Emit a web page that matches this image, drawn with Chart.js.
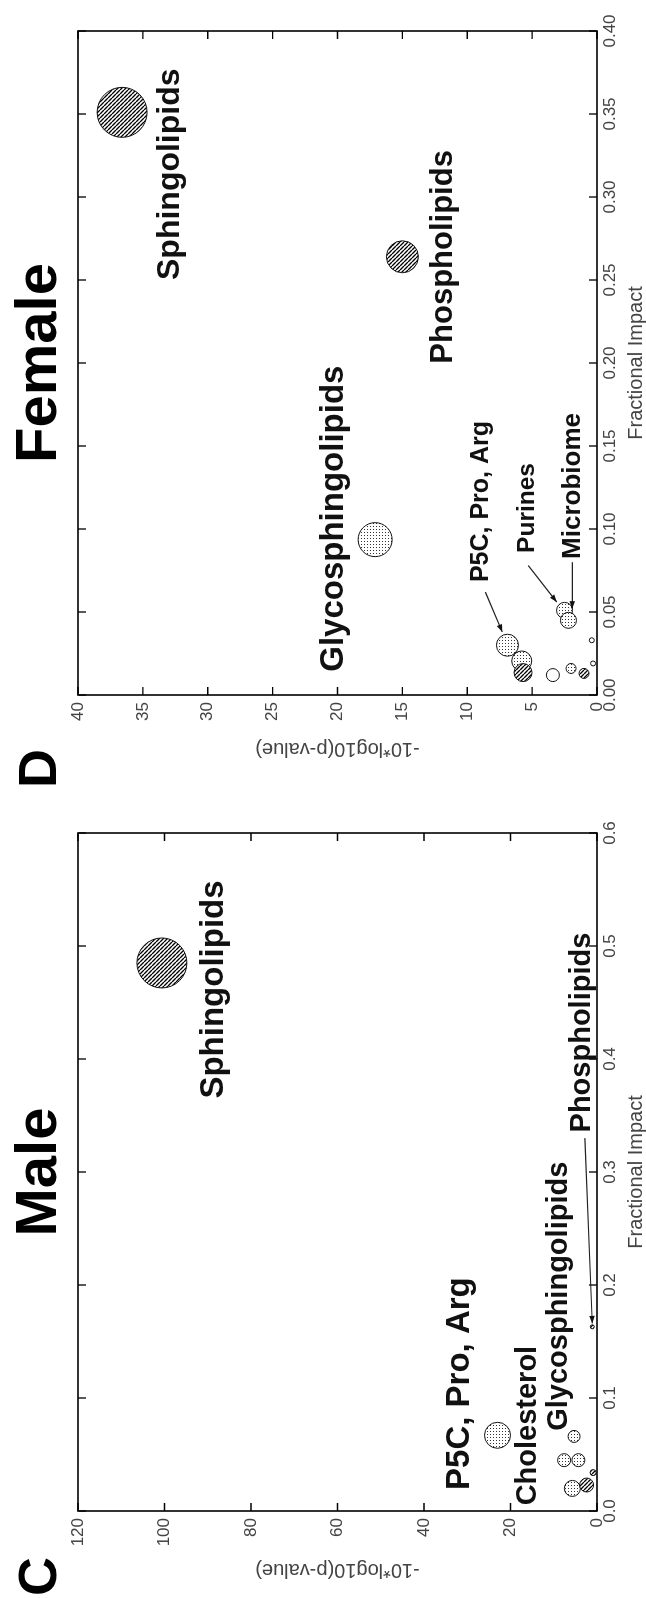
<!DOCTYPE html>
<html>
<head>
<meta charset="utf-8">
<script src="https://cdn.jsdelivr.net/npm/chart.js@4.4.1/dist/chart.umd.min.js"></script>
<style>
  html, body { margin: 0; padding: 0; background: #fff; }
  body { width: 646px; height: 1598px; overflow: hidden; position: relative; }
  /* the figure is laid out landscape, then turned a quarter left */
  #figure { position: absolute; left: 0; top: 0; width: 1598px; height: 646px;
    transform-origin: 0 0; transform: translateY(1598px) rotate(-90deg); }
  .panel { position: absolute; top: 0; height: 646px; }
  #male { left: 0; width: 800px; }
  #female { left: 800px; width: 798px; }
</style>
</head>
<body>
<div id="figure">
  <div class="panel" id="male"><canvas id="ctx-male" width="800" height="646"></canvas></div>
  <div class="panel" id="female"><canvas id="ctx-female" width="798" height="646"></canvas></div>
</div>
<script>
// ---- panel C : Male ----
const maleHatchImpact = [0.485, 0.023, 0.034, 0.163];
const maleHatchLogP = [100.6, 2.4, 0.9, 1.1];
const maleHatchSize = [25, 7, 3, 2];
const maleDotImpact = [0.067, 0.066, 0.045, 0.045, 0.020];
const maleDotLogP = [23.0, 5.3, 7.6, 4.3, 5.7];
const maleDotSize = [13, 6, 6.5, 6.5, 8];

const maleLabels = ['Sphingolipids', 'P5C, Pro, Arg', 'Cholesterol', 'Glycosphingolipids', 'Phospholipids'];
const maleLabelImpact = [0.365, 0.0186, 0.005, 0.071, 0.335];
const maleLabelLogP = [88.5, 31.7, 16.0, 8.8, 3.4];
const maleArrows = [[0.330, 2.8, 0.166, 1.1]];

// ---- panel D : Female ----
const femaleHatchImpact = [0.351, 0.264, 0.0135, 0.013];
const femaleHatchLogP = [36.6, 15.0, 5.7, 1.0];
const femaleHatchSize = [25, 16, 9, 5];
const femaleDotImpact = [0.0936, 0.030, 0.0205, 0.051, 0.045, 0.016];
const femaleDotLogP = [17.1, 6.9, 5.8, 2.5, 2.2, 2.0];
const femaleDotSize = [17, 11, 10, 8, 8, 5];
const femaleOpenImpact = [0.012, 0.019, 0.033];
const femaleOpenLogP = [3.4, 0.3, 0.4];
const femaleOpenSize = [6.5, 2.5, 2.5];

const femaleLabels = ['Sphingolipids', 'Phospholipids', 'Glycosphingolipids', 'P5C, Pro, Arg', 'Purines', 'Microbiome'];
const femaleLabelImpact = [0.250, 0.1996, 0.014, 0.068, 0.0856, 0.082];
const femaleLabelLogP = [32.9, 11.8, 20.3, 8.9, 5.4, 1.9];
const femaleArrows = [[0.062, 8.6, 0.038, 7.3], [0.078, 5.3, 0.056, 3.1], [0.080, 1.9, 0.052, 1.9]];

const FONT = '"Liberation Sans", Arial, Helvetica, sans-serif';
Chart.defaults.font.family = FONT;

function hatchPattern() {
  const c = document.createElement('canvas');
  c.width = 4; c.height = 4;
  const g = c.getContext('2d');
  g.fillStyle = '#fff'; g.fillRect(0, 0, 4, 4);
  g.strokeStyle = '#000'; g.lineWidth = 1.3;
  g.beginPath();
  for (let i = -4; i <= 4; i += 4) { g.moveTo(i, 0); g.lineTo(i + 4, 4); }
  g.stroke();
  return g.createPattern(c, 'repeat');
}

function dotPattern() {
  const c = document.createElement('canvas');
  c.width = 3; c.height = 3;
  const g = c.getContext('2d');
  g.fillStyle = '#fff'; g.fillRect(0, 0, 3, 3);
  g.fillStyle = '#333'; g.fillRect(1, 1, 1, 1);
  return g.createPattern(c, 'repeat');
}

const points = (xs, ys, rs) => xs.map((v, i) => ({ x: v, y: ys[i], r: rs[i] }));

function arrow(ctx, x0, y0, x1, y1) {
  const ang = Math.atan2(y1 - y0, x1 - x0);
  ctx.beginPath();
  ctx.moveTo(x0, y0); ctx.lineTo(x1, y1);
  ctx.stroke();
  ctx.beginPath();
  ctx.moveTo(x1, y1);
  ctx.lineTo(x1 - 8 * Math.cos(ang - 0.35), y1 - 8 * Math.sin(ang - 0.35));
  ctx.lineTo(x1 - 8 * Math.cos(ang + 0.35), y1 - 8 * Math.sin(ang + 0.35));
  ctx.closePath();
  ctx.fill();
}

// gnuplot style box: frame, inward mirrored ticks, labels, panel title
const gnuFrame = {
  id: 'gnuFrame',
  afterDatasetsDraw(chart, args, o) {
    const { ctx, chartArea: a, scales: { x, y } } = chart;
    ctx.save();
    ctx.strokeStyle = '#000';
    ctx.lineWidth = 1.6;
    ctx.strokeRect(a.left, a.top, a.right - a.left, a.bottom - a.top);
    ctx.lineWidth = 1.3;
    ctx.beginPath();
    x.ticks.forEach((t) => {
      const px = x.getPixelForValue(t.value);
      ctx.moveTo(px, a.bottom); ctx.lineTo(px, a.bottom - 8);
      ctx.moveTo(px, a.top); ctx.lineTo(px, a.top + 8);
    });
    y.ticks.forEach((t) => {
      const py = y.getPixelForValue(t.value);
      ctx.moveTo(a.left, py); ctx.lineTo(a.left + 8, py);
      ctx.moveTo(a.right, py); ctx.lineTo(a.right - 8, py);
    });
    ctx.stroke();

    ctx.fillStyle = '#111';
    ctx.strokeStyle = '#222';
    ctx.lineWidth = 1.2;
    o.arrows.forEach((r) => {
      arrow(ctx, x.getPixelForValue(r[0]), y.getPixelForValue(r[1]),
        x.getPixelForValue(r[2]), y.getPixelForValue(r[3]));
    });

    ctx.textAlign = 'left';
    ctx.textBaseline = 'middle';
    o.labels.forEach((text, i) => {
      ctx.font = `bold ${o.labelSizes[i]}px ${FONT}`;
      ctx.fillText(text, x.getPixelForValue(o.labelX[i]), y.getPixelForValue(o.labelY[i]));
    });

    ctx.fillStyle = '#000';
    ctx.textBaseline = 'alphabetic';
    ctx.font = `bold 58px ${FONT}`;
    ctx.textAlign = 'center';
    ctx.fillText(o.title, (a.left + a.right) / 2, 56);
    ctx.font = `bold 54px ${FONT}`;
    ctx.textAlign = 'left';
    ctx.fillText(o.letter, o.letterX, 56);
    ctx.restore();
  },
};

function bubbleChart(id, cfg) {
  const hatch = hatchPattern();
  const dots = dotPattern();
  const sets = cfg.sets.map((s) => ({
    data: s.data,
    backgroundColor: s.fill === 'hatch' ? hatch : (s.fill === 'dots' ? dots : '#fff'),
    borderColor: '#111',
    borderWidth: 1,
    clip: false,
  }));
  return new Chart(document.getElementById(id).getContext('2d'), {
    type: 'bubble',
    data: { datasets: sets },
    plugins: [gnuFrame],
    options: {
      responsive: false,
      animation: false,
      events: [],
      layout: { padding: cfg.padding },
      plugins: {
        legend: { display: false },
        tooltip: { enabled: false },
        gnuFrame: cfg.frame,
      },
      scales: {
        x: {
          type: 'linear',
          min: 0,
          max: cfg.xMax,
          grid: { display: false, drawTicks: false },
          border: { display: false },
          ticks: {
            stepSize: cfg.xStep,
            padding: 3,
            color: '#444',
            font: { size: 17 },
            maxRotation: 0,
            autoSkip: false,
            callback: (v) => Number(v).toFixed(cfg.xDigits),
          },
          title: { display: true, text: 'Fractional Impact', color: '#444', font: { size: 20, lineHeight: 1 }, padding: { top: 0, bottom: 0 } },
          afterFit: (scale) => { scale.height = 49; },
        },
        y: {
          type: 'linear',
          min: 0,
          max: cfg.yMax,
          grid: { display: false, drawTicks: false },
          border: { display: false },
          ticks: { stepSize: cfg.yStep, padding: 7, color: '#444', font: { size: 17 }, autoSkip: false },
          title: { display: true, text: '-10*log10(p-value)', color: '#444', font: { size: 20, lineHeight: 1 }, padding: { top: 18, bottom: 0 } },
          afterFit: (scale) => { scale.width = cfg.yWidth; },
        },
      },
    },
  });
}

bubbleChart('ctx-male', {
  xMax: 0.6, xStep: 0.1, xDigits: 1, yMax: 120, yStep: 20,
  yWidth: 87,
  padding: { left: 0, right: 35, top: 78, bottom: 0 },
  sets: [
    { fill: 'hatch', data: points(maleHatchImpact, maleHatchLogP, maleHatchSize) },
    { fill: 'dots', data: points(maleDotImpact, maleDotLogP, maleDotSize) },
  ],
  frame: {
    title: 'Male', letter: 'C', letterX: 2,
    labels: maleLabels, labelX: maleLabelImpact, labelY: maleLabelLogP,
    labelSizes: [33, 33, 29, 29, 29],
    arrows: maleArrows,
  },
});

bubbleChart('ctx-female', {
  xMax: 0.4, xStep: 0.05, xDigits: 2, yMax: 40, yStep: 5,
  yWidth: 82,
  padding: { left: 21, right: 31, top: 78, bottom: 0 },
  sets: [
    { fill: 'hatch', data: points(femaleHatchImpact, femaleHatchLogP, femaleHatchSize) },
    { fill: 'dots', data: points(femaleDotImpact, femaleDotLogP, femaleDotSize) },
    { fill: 'open', data: points(femaleOpenImpact, femaleOpenLogP, femaleOpenSize) },
  ],
  frame: {
    title: 'Female', letter: 'D', letterX: 10,
    labels: femaleLabels, labelX: femaleLabelImpact, labelY: femaleLabelLogP,
    labelSizes: [32, 31, 33, 25, 24.5, 26],
    arrows: femaleArrows,
  },
});
</script>
</body>
</html>
